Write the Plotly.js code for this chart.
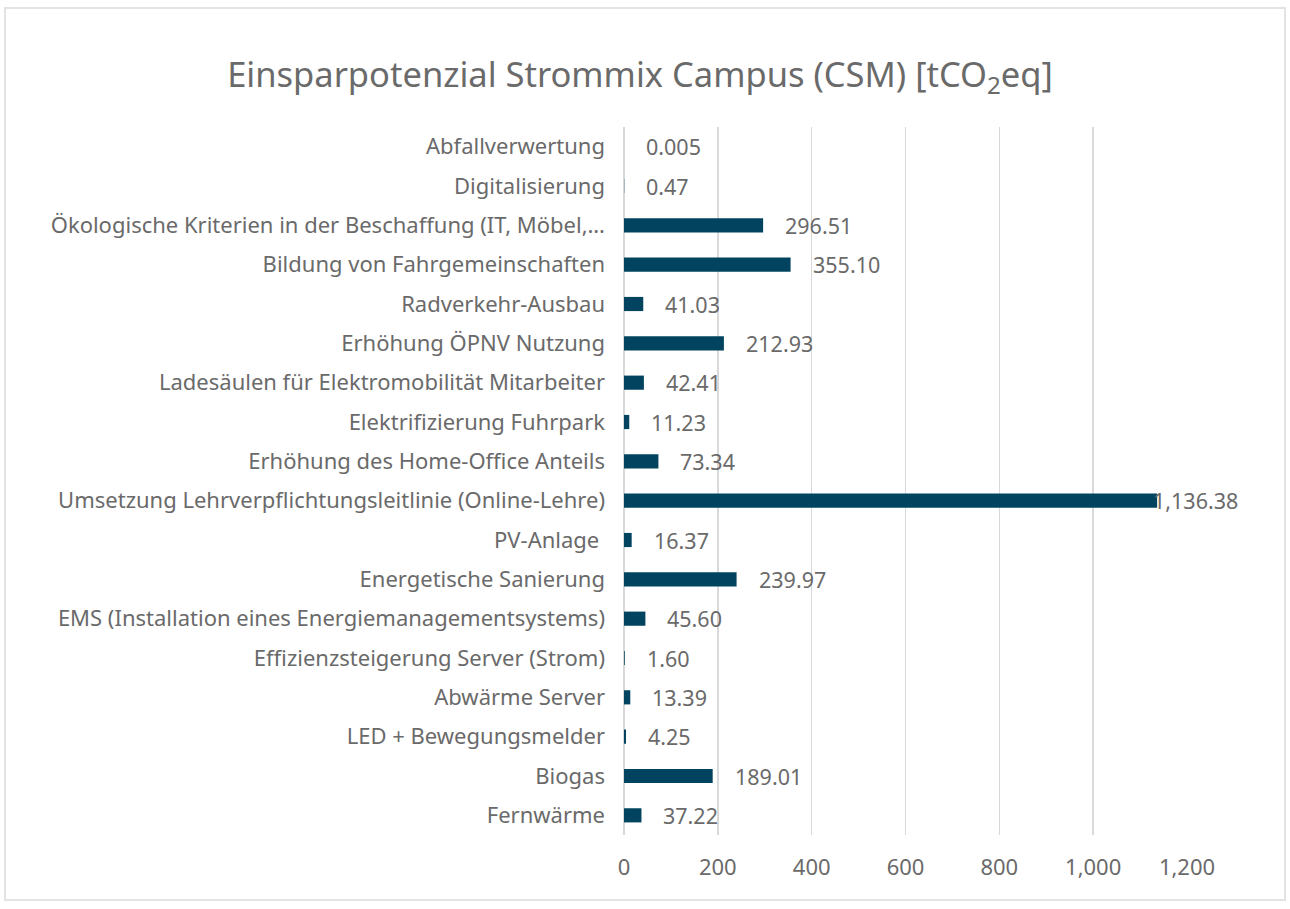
<!DOCTYPE html>
<html>
<head>
<meta charset="utf-8">
<script src="https://cdn.plot.ly/plotly-3.0.1.min.js"></script>
<style>
  html, body { margin: 0; padding: 0; background: #ffffff; }
  #wrap { position: relative; width: 1290px; height: 909px; }
  #chart { position: absolute; left: 0; top: 0; width: 1290px; height: 909px; }
  #frame { position: absolute; left: 4px; top: 7px; width: 1282px; height: 894px;
           border: 2px solid #e3e3e3; pointer-events: none; box-sizing: border-box; }
</style>
</head>
<body>
<div id="wrap"><div id="chart"></div><div id="frame"></div></div>
<script>
// Categories listed top to bottom as shown in the chart
const categories = [
  "Abfallverwertung",
  "Digitalisierung",
  "Ökologische Kriterien in der Beschaffung (IT, Möbel,…",
  "Bildung von Fahrgemeinschaften",
  "Radverkehr-Ausbau",
  "Erhöhung ÖPNV Nutzung",
  "Ladesäulen für Elektromobilität Mitarbeiter",
  "Elektrifizierung Fuhrpark",
  "Erhöhung des Home-Office Anteils",
  "Umsetzung Lehrverpflichtungsleitlinie (Online-Lehre)",
  "PV-Anlage ",
  "Energetische Sanierung",
  "EMS (Installation eines Energiemanagementsystems)",
  "Effizienzsteigerung Server (Strom)",
  "Abwärme Server",
  "LED + Bewegungsmelder",
  "Biogas",
  "Fernwärme"
];
const values = [0.005, 0.47, 296.51, 355.10, 41.03, 212.93, 42.41, 11.23, 73.34,
                1136.38, 16.37, 239.97, 45.60, 1.60, 13.39, 4.25, 189.01, 37.22];
const xTickVals = [0, 200, 400, 600, 800, 1000, 1200];
const xTickText = ["0", "200", "400", "600", "800", "1,000", "1,200"];
const xMax = 1200;

const fmt = v => v < 0.01 ? v.toFixed(3)
  : v.toLocaleString("en-US", {minimumFractionDigits: 2, maximumFractionDigits: 2});

const textColor = "#6a6a6a";
const fontFam = "'Noto Sans', 'Open Sans', sans-serif";

const trace = {
  type: "bar",
  orientation: "h",
  x: values,
  y: categories,
  marker: { color: "#02445F", line: { width: 0 } },
  hoverinfo: "x+y"
};

const annotations = categories.map((c, i) => ({
  x: values[i], y: c, xref: "x", yref: "y",
  text: fmt(values[i]),
  showarrow: false,
  xanchor: "left",
  xshift: values[i] > 0.9 * xMax ? -6 : 20,
  font: { family: fontFam, size: 21.5, color: textColor }
}));

const layout = {
  width: 1290, height: 909,
  paper_bgcolor: "#ffffff", plot_bgcolor: "#ffffff",
  margin: { l: 624, r: 103, t: 127, b: 74 },
  title: {
    text: "Einsparpotenzial Strommix Campus (CSM) [tCO<sub>2</sub>eq]",
    x: 640 / 1290, xanchor: "center", xref: "container",
    y: 1 - 75 / 909, yanchor: "middle", yref: "container",
    font: { family: fontFam, size: 34.5, color: textColor }
  },
  bargap: 0.64,
  showlegend: false,
  xaxis: {
    range: [0, xMax],
    tickvals: xTickVals, ticktext: xTickText,
    showgrid: true, gridcolor: "#d9d9d9", gridwidth: 1.5,
    zeroline: true, zerolinecolor: "#d9d9d9", zerolinewidth: 1.5,
    showline: false, ticks: "",
    ticklabelstandoff: 17,
    tickfont: { family: fontFam, size: 22, color: textColor },
    fixedrange: true
  },
  yaxis: {
    type: "category",
    autorange: "reversed",
    showgrid: false, zeroline: false, showline: false, ticks: "",
    ticklabelstandoff: 18,
    tickfont: { family: fontFam, size: 22, color: textColor },
    fixedrange: true
  },
  annotations: annotations
};

Plotly.newPlot("chart", [trace], layout, { displayModeBar: false, staticPlot: true });
</script>
</body>
</html>
